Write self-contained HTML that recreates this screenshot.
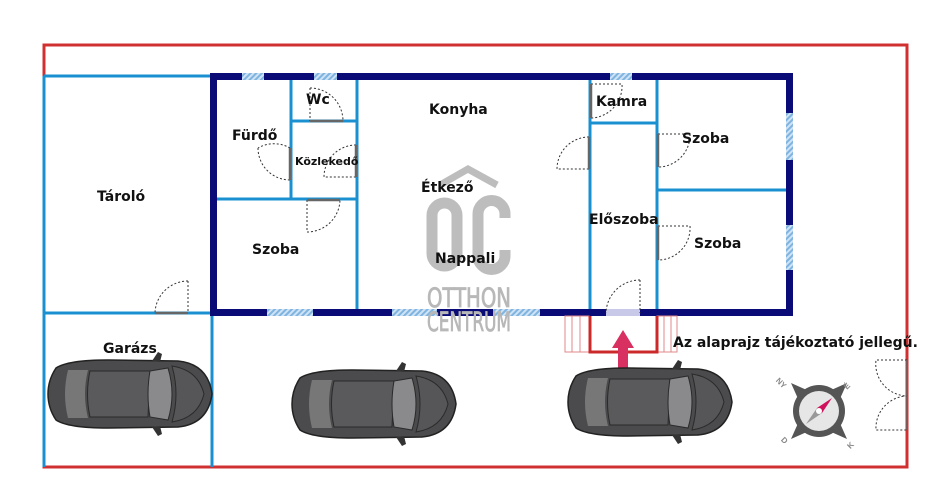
<!DOCTYPE html>
<html><head><meta charset="utf-8"><style>
html,body{margin:0;padding:0;background:#fff;}
svg{display:block;font-family:"Liberation Sans","DejaVu Sans",sans-serif;}
</style></head><body>
<svg width="938" height="500" viewBox="0 0 938 500" xmlns="http://www.w3.org/2000/svg">
<defs>
<pattern id="h" width="4" height="4" patternUnits="userSpaceOnUse" patternTransform="rotate(45)">
<rect width="4" height="4" fill="#cfe3f5"/><rect width="2" height="4" fill="#7fb4e0"/></pattern>
<g id="car">
<path d="M8,10 Q20,2 60,2 L130,3 Q160,6 164,36 Q160,66 130,69 L60,70 Q20,70 8,62 Q0,50 0,36 Q0,22 8,10Z" fill="#4b4b4d" stroke="#222" stroke-width="1.5"/>
<path d="M20,12 Q14,36 20,60 L40,60 Q34,36 40,12Z" fill="#777"/>
<path d="M42,13 L102,13 L100,59 L42,59 Q37,36 42,13Z" fill="#5a5a5c" stroke="#2a2a2a"/>
<path d="M102,13 L120,10 Q128,36 120,62 L102,59 Q98,36 102,13Z" fill="#8a8a8c" stroke="#2a2a2a"/>
<path d="M124,8 Q150,12 156,36 Q150,60 124,64 Q132,36 124,8Z" fill="#565658" stroke="#2a2a2a"/>
<path d="M104,3 L110,-6 L114,-4 L112,4Z" fill="#333"/>
<path d="M104,69 L110,78 L114,76 L112,68Z" fill="#333"/>
</g>
</defs>
<rect x="44" y="45" width="863" height="422" fill="none" stroke="#d03030" stroke-width="3"/>
<g stroke="#1a90d0" stroke-width="3" fill="none">
<path d="M44,76 H212"/>
<path d="M44,76 V467"/>
<path d="M44,313 H212"/>
<path d="M212,313 V467"/>
<path d="M291,78 V198"/>
<path d="M291,121 H357"/>
<path d="M357,78 V311"/>
<path d="M215,199 H357"/>
<path d="M590,78 V311"/>
<path d="M590,123 H657"/>
<path d="M657,78 V311"/>
<path d="M657,190 H787"/>
</g>
<rect x="213.5" y="76.5" width="576" height="236" fill="none" stroke="#0b0b78" stroke-width="7"/>
<rect x="242" y="73" width="22" height="7" fill="url(#h)"/>
<rect x="314" y="73" width="23" height="7" fill="url(#h)"/>
<rect x="610" y="73" width="22" height="7" fill="url(#h)"/>
<rect x="786" y="113" width="7" height="47" fill="url(#h)"/>
<rect x="786" y="225" width="7" height="45" fill="url(#h)"/>
<rect x="267" y="309" width="46" height="7" fill="url(#h)"/>
<rect x="392" y="309" width="45" height="7" fill="url(#h)"/>
<rect x="493" y="309" width="47" height="7" fill="url(#h)"/>
<rect x="606" y="309" width="34" height="7" fill="#c8c8e8"/>
<g fill="none" stroke="#333" stroke-width="1" stroke-dasharray="2,2">
<path d="M310,88 A33,33 0 0 1 343,121 M310,88 V121"/>
<path d="M290,148 A32,32 0 0 0 258,148 M258,148 A32,32 0 0 0 290,180"/>
<path d="M356,145 A32,32 0 0 0 324,177 H356"/>
<path d="M307,200 V232 A33,33 0 0 0 340,200"/>
<path d="M589,137 A32,32 0 0 0 557,169 H589"/>
<path d="M591,84 H622 A32,32 0 0 1 591,118"/>
<path d="M658,134 H690 A32,32 0 0 1 658,167"/>
<path d="M658,226 H690 A32,32 0 0 1 658,260"/>
<path d="M640,280 A34,34 0 0 0 606,313 M640,280 V313"/>
<path d="M188,281 A33,33 0 0 0 155,313 M188,281 V313"/>
<path d="M907,360 H876 A32,32 0 0 0 907,396 A32,32 0 0 0 876,430 H907"/>
</g>
<g stroke="#666" stroke-width="2.5">
<path d="M310,121 H343"/><path d="M290,148 V180"/><path d="M356,145 V177"/><path d="M307,200 H340"/>
<path d="M589,137 V169"/><path d="M591,84 V118"/><path d="M658,134 V167"/><path d="M658,226 V260"/>
<path d="M155,313 H188"/><path d="M907,360 V430" stroke-width="1.5"/>
</g>
<g stroke="#e08a8a" stroke-width="1" fill="none">
<rect x="565" y="316" width="24" height="36"/><rect x="657" y="316" width="20" height="36"/>
<path d="M572,316V352M580,316V352M664,316V352M671,316V352"/>
</g>
<path d="M590,316 V352 H657 V316" fill="none" stroke="#cc2a2a" stroke-width="3"/>
<path d="M618,368 V348 H612 L623,330 L634,348 H628 V368Z" fill="#d83060"/>
<g fill="none" stroke="#bdbdbd" stroke-width="11">
<path d="M440,185 L468,169 L497,185" stroke-width="7"/>
<rect x="432" y="203" width="25" height="63" rx="12.5"/>
<path d="M505,218 V214 A13,13 0 0 0 478,214 V256 A13,13 0 0 0 505,256 V250"/>
</g>
<g fill="#b8b8b8" stroke="#b8b8b8" stroke-width="0.8" font-size="27" font-family="'DejaVu Sans Condensed','Liberation Sans',sans-serif">
<text x="427" y="307" textLength="84" lengthAdjust="spacingAndGlyphs">OTTHON</text>
<text x="427" y="331" textLength="84" lengthAdjust="spacingAndGlyphs">CENTRUM</text>
</g>
<use href="#car" x="48" y="358"/>
<use href="#car" x="292" y="368"/>
<use href="#car" x="568" y="366"/>
<g transform="translate(819,411)">
<path d="M-28,-28 L-10,-20 L-20,-10Z M28,-28 L10,-20 L20,-10Z M-28,28 L-10,20 L-20,10Z M28,28 L10,20 L20,10Z" fill="#555"/>
<circle r="26" fill="#555"/><circle r="20" fill="#e6e6e6"/>
<path d="M-13,13 L-2,-3 L3,2Z" fill="#999"/><path d="M13,-13 L-2,-3 L3,2Z" fill="#d0105a"/>
<circle r="3" fill="#fff"/>
<g font-size="8" font-weight="bold" fill="#888">
<text x="-42" y="-26" transform="rotate(45,-38,-30)">NY</text>
<text x="26" y="-22" transform="rotate(-45,28,-24)">É</text>
<text x="-38" y="32" transform="rotate(45,-35,30)">D</text>
<text x="28" y="38" transform="rotate(-45,30,34)">K</text>
</g>
</g>
<g font-weight="bold" font-family="'DejaVu Sans','Liberation Sans',sans-serif" font-size="14" fill="#111">
<text x="97" y="201">Tároló</text>
<text x="232" y="140">Fürdő</text>
<text x="306" y="104">Wc</text>
<text x="295" y="165" font-size="11">Közlekedő</text>
<text x="252" y="254">Szoba</text>
<text x="429" y="114">Konyha</text>
<text x="421" y="192">Étkező</text>
<text x="435" y="263">Nappali</text>
<text x="596" y="106">Kamra</text>
<text x="682" y="143">Szoba</text>
<text x="589" y="224">Előszoba</text>
<text x="694" y="248">Szoba</text>
<text x="103" y="353">Garázs</text>
<text x="673" y="347">Az alaprajz tájékoztató jellegű.</text>
</g>
</svg>
</body></html>
